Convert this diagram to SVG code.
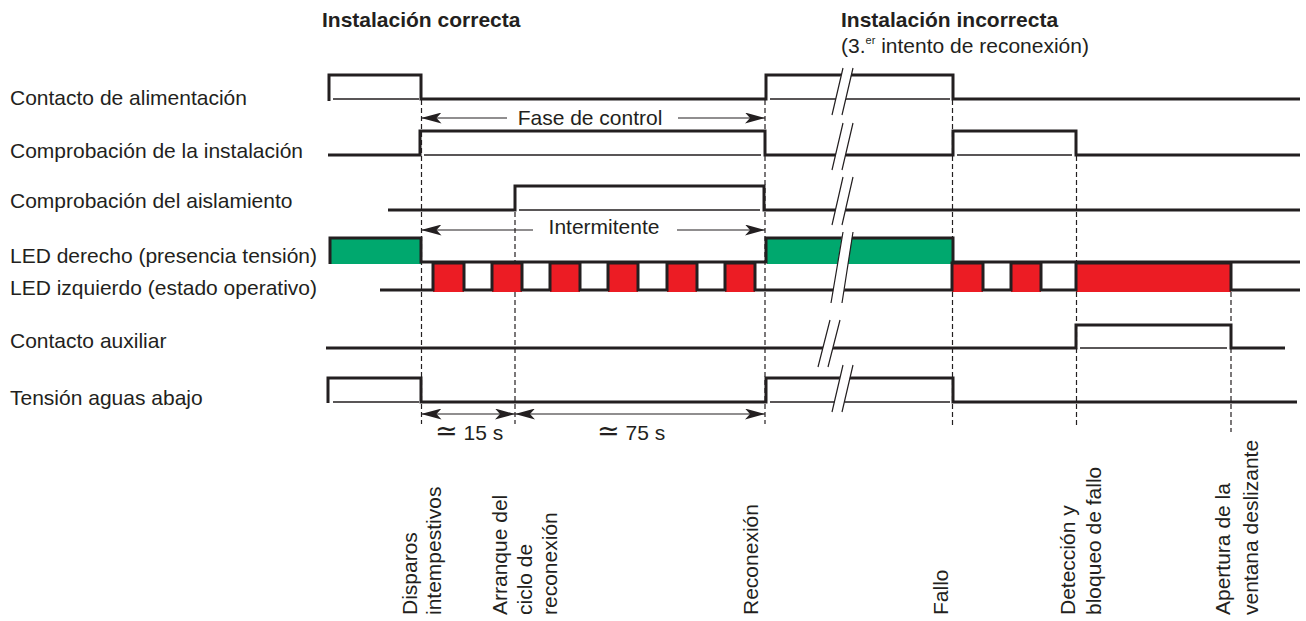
<svg xmlns="http://www.w3.org/2000/svg" width="1306" height="621" viewBox="0 0 1306 621">
<style>
text{font-family:"Liberation Sans",Arial,"DejaVu Sans",sans-serif;font-size:21px;fill:#231f20}
.b{font-weight:bold}
.mid{text-anchor:middle}
.sym{font-family:"DejaVu Sans",sans-serif;font-size:27px}
.thick{fill:none;stroke:#231f20;stroke-width:3;stroke-linejoin:miter;stroke-linecap:butt}
.thin{fill:none;stroke:#231f20;stroke-width:1.3}
.dash{fill:none;stroke:#231f20;stroke-width:1.2;stroke-dasharray:5 3}
.arrow{fill:none;stroke:#231f20;stroke-width:1.2;marker-end:url(#arr)}
.arrow2{fill:none;stroke:#231f20;stroke-width:1.2;marker-start:url(#arr);marker-end:url(#arr)}
.green{fill:#00a86e}
.red{fill:#ec1c24}
.gap{fill:#fff;stroke:none}
.slash{stroke:#231f20;stroke-width:1.2}
</style>
<defs>
<marker id="arr" viewBox="0 0 20 11" refX="20" refY="5.5" markerWidth="20" markerHeight="11" markerUnits="userSpaceOnUse" orient="auto-start-reverse">
<path d="M0,0 L20,5.5 L0,11 L5,5.5 Z" fill="#231f20"/>
</marker>
</defs>
<rect width="1306" height="621" fill="#fff"/>

<g id="headers">
<text class="b" x="322" y="27">Instalación correcta</text>
<text class="b" x="841" y="27">Instalación incorrecta</text>
<text x="841" y="53">(3.<tspan font-size="11" dy="-9">er</tspan><tspan dy="9"> intento de reconexión)</tspan></text>
</g>

<g id="labels">
<text x="10" y="105">Contacto de alimentación</text>
<text x="10" y="158">Comprobación de la instalación</text>
<text x="10" y="208">Comprobación del aislamiento</text>
<text x="10" y="263">LED derecho (presencia tensión)</text>
<text x="10" y="295">LED izquierdo (estado operativo)</text>
<text x="10" y="348">Contacto auxiliar</text>
<text x="10" y="405">Tensión aguas abajo</text>
</g>

<g id="connectors">
<path class="dash" d="M421.5,100 V424"/>
<path class="dash" d="M515,212 V424"/>
<path class="dash" d="M765,100 V424"/>
<path class="dash" d="M952.5,100 V428"/>
<path class="dash" d="M1076.5,156 V428"/>
<path class="dash" d="M1231,292 V432"/>
<path class="arrow" d="M507,118 H421.5"/>
<path class="arrow" d="M678,118 H765"/>
<path class="arrow" d="M533,230 H421.5"/>
<path class="arrow" d="M677,230 H765"/>
<path class="arrow2" d="M421.5,414 H515"/>
<path class="arrow2" d="M515,414 H765"/>
<text class="mid" x="590" y="124.5">Fase de control</text>
<text class="mid" x="604" y="234">Intermitente</text>
<text x="435" y="440"><tspan class="sym">≃</tspan> 15 s</text>
<text x="597" y="440"><tspan class="sym">≃</tspan> 75 s</text>
</g>

<g id="sig-alimentacion">
<path class="thick" d="M329,101 V75 H421 V99 H766 V75 H953 V99 H1300"/>
<path class="thin" d="M333,99 H419 M770,99 H950"/>
</g>

<g id="sig-comprobacion-instalacion">
<path class="thick" d="M328,155 H420 V131 H765 V155 H953 V131 H1076 V155 H1300"/>
<path class="thin" d="M424,155 H761 M957,155 H1072"/>
</g>

<g id="sig-comprobacion-aislamiento">
<path class="thick" d="M388,210 H515 V186 H764 V210 H1300"/>
<path class="thin" d="M519,210 H760"/>
</g>

<g id="sig-led-derecho">
<rect class="green" x="331" y="239" width="90" height="25"/>
<rect class="green" x="767" y="239" width="186" height="25"/>
<path class="thick" d="M330,264 V238 H421 V262 H766 V238 H953 V262 H1300"/>
</g>

<g id="sig-led-izquierdo">
<rect class="red" x="433" y="263" width="31" height="29"/>
<rect class="red" x="492" y="263" width="30" height="29"/>
<rect class="red" x="550" y="263" width="30" height="29"/>
<rect class="red" x="608" y="263" width="30" height="29"/>
<rect class="red" x="667" y="263" width="30" height="29"/>
<rect class="red" x="725" y="263" width="30" height="29"/>
<rect class="red" x="952" y="263" width="31" height="29"/>
<rect class="red" x="1011" y="263" width="30" height="29"/>
<rect class="red" x="1076" y="263" width="155" height="29"/>
<path class="thick" d="M380,290 H433 V263 H464 V290 H492 V263 H522 V290 H550 V263 H580 V290 H608 V263 H638 V290 H667 V263 H697 V290 H725 V263 H755 V290 H952 V263 H983 V290 H1011 V263 H1041 V290 H1076 V263 H1231 V290 H1300"/>
</g>

<g id="sig-contacto-auxiliar">
<path class="thick" d="M326,348 H1076 V325 H1231 V348 H1285"/>
<path class="thin" d="M1080,348 H1227"/>
</g>

<g id="sig-tension-aguas-abajo">
<path class="thick" d="M328,403 V378 H421 V402 H766 V378 H953 V402 H1297"/>
<path class="thin" d="M333,402 H419 M770,402 H950"/>
</g>

<g id="breaks">
<polygon class="gap" points="843,66 853,66 842,117 832,117"/>
<path class="slash" d="M843,68 L832,115 M853,68 L842,115"/>
<polygon class="gap" points="843,121 853,121 842,172 832,172"/>
<path class="slash" d="M843,123 L832,170 M853,123 L842,170"/>
<polygon class="gap" points="843,175 853,175 842,227 832,227"/>
<path class="slash" d="M843,177 L832,225 M853,177 L842,225"/>
<polygon class="gap" points="843,230 853,230 842,305 831,305"/>
<path class="slash" d="M843,232 L831,303 M853,232 L842,303"/>
<polygon class="gap" points="830,318 840,318 828,369 818,369"/>
<path class="slash" d="M830,320 L818,367 M840,320 L828,367"/>
<polygon class="gap" points="843,363 853,363 842,414 832,414"/>
<path class="slash" d="M843,365 L832,412 M853,365 L842,412"/>
</g>

<g id="events">
<text transform="translate(417,615) rotate(-90)">Disparos</text>
<text transform="translate(441,615) rotate(-90)">intempestivos</text>
<text transform="translate(507,615) rotate(-90)">Arranque del</text>
<text transform="translate(532,615) rotate(-90)">ciclo de</text>
<text transform="translate(557,615) rotate(-90)">reconexión</text>
<text transform="translate(758,615) rotate(-90)">Reconexión</text>
<text transform="translate(948,615) rotate(-90)">Fallo</text>
<text transform="translate(1075,615) rotate(-90)">Detección y</text>
<text transform="translate(1101,615) rotate(-90)">bloqueo de fallo</text>
<text transform="translate(1230,615) rotate(-90)">Apertura de la</text>
<text transform="translate(1258,615) rotate(-90)">ventana deslizante</text>
</g>
</svg>
